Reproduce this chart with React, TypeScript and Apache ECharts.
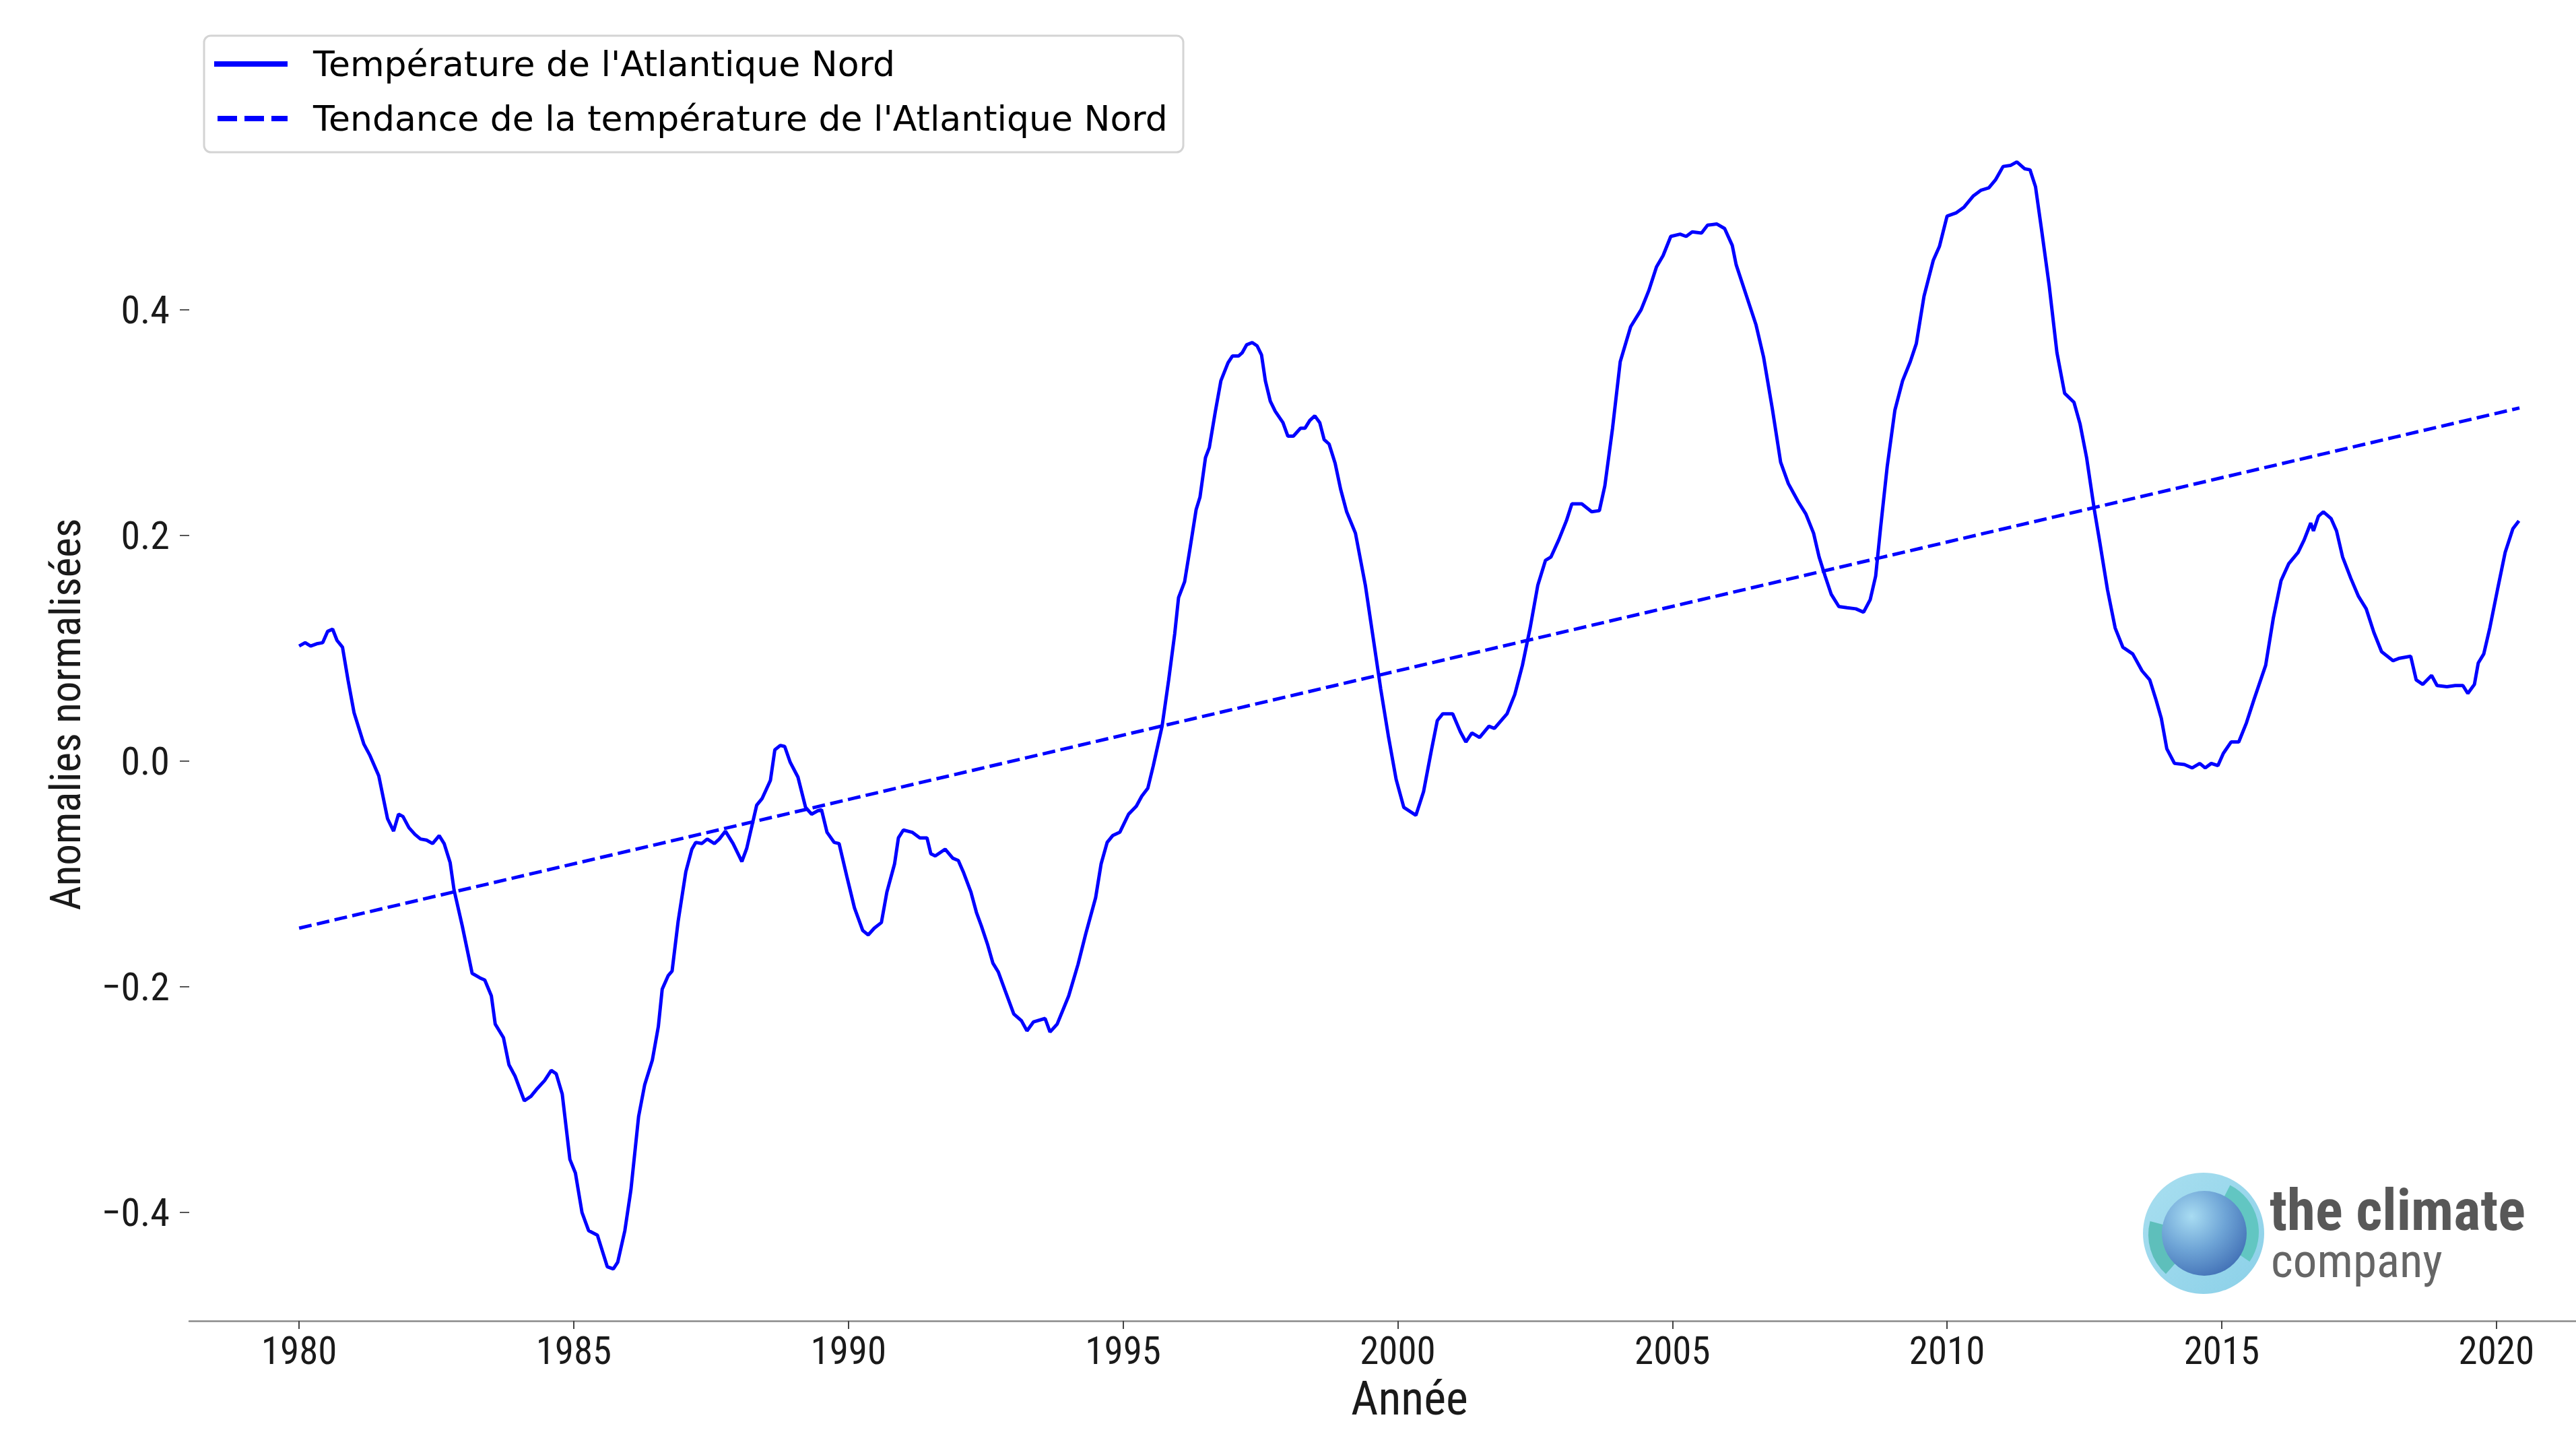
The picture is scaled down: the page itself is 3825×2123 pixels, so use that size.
import React, { useEffect, useRef } from "react";
import * as echarts from "echarts";

// ---- Data (year, normalised anomaly) ----
const temp1980s: number[][] = [
  [1980.0, 0.102], [1980.11, 0.105], [1980.21, 0.102], [1980.32, 0.104], [1980.43, 0.105], [1980.52, 0.115],
  [1980.61, 0.117], [1980.69, 0.107], [1980.79, 0.101], [1980.89, 0.072], [1981.0, 0.043], [1981.18, 0.015],
  [1981.29, 0.005], [1981.45, -0.013], [1981.61, -0.051], [1981.72, -0.062], [1981.81, -0.047], [1981.89, -0.049],
  [1982.0, -0.059], [1982.11, -0.065], [1982.21, -0.069], [1982.32, -0.07], [1982.43, -0.073], [1982.55, -0.066],
  [1982.64, -0.073], [1982.75, -0.09], [1982.82, -0.114], [1982.97, -0.146], [1983.15, -0.188], [1983.29, -0.192],
  [1983.38, -0.194], [1983.5, -0.208], [1983.57, -0.233], [1983.72, -0.245], [1983.82, -0.269], [1983.93, -0.279],
  [1984.1, -0.301], [1984.22, -0.297], [1984.32, -0.291], [1984.47, -0.283], [1984.59, -0.274], [1984.68, -0.277],
  [1984.79, -0.295], [1984.93, -0.353], [1985.03, -0.365], [1985.15, -0.4], [1985.27, -0.416], [1985.43, -0.42],
  [1985.61, -0.448], [1985.72, -0.45], [1985.8, -0.444], [1985.93, -0.416], [1986.04, -0.38], [1986.18, -0.315],
  [1986.29, -0.287], [1986.43, -0.265], [1986.54, -0.235], [1986.61, -0.202], [1986.72, -0.19], [1986.79, -0.186],
  [1986.9, -0.142], [1987.04, -0.098], [1987.15, -0.078], [1987.22, -0.072], [1987.33, -0.073], [1987.43, -0.069],
  [1987.56, -0.073], [1987.65, -0.069], [1987.76, -0.062], [1987.9, -0.073], [1988.06, -0.089], [1988.15, -0.077],
  [1988.33, -0.039], [1988.43, -0.033], [1988.58, -0.017], [1988.66, 0.01], [1988.76, 0.014], [1988.84, 0.013],
  [1988.94, -0.001], [1989.08, -0.014], [1989.22, -0.041], [1989.33, -0.047], [1989.44, -0.044], [1989.51, -0.043],
  [1989.61, -0.063], [1989.74, -0.072], [1989.83, -0.073], [1989.97, -0.102],
];

const temp1990s: number[][] = [
  [1990.11, -0.13], [1990.26, -0.15], [1990.36, -0.154], [1990.47, -0.148], [1990.6, -0.143], [1990.7, -0.116],
  [1990.84, -0.091], [1990.91, -0.068], [1991.0, -0.061], [1991.16, -0.063], [1991.3, -0.068], [1991.43, -0.068],
  [1991.5, -0.082], [1991.58, -0.084], [1991.76, -0.078], [1991.9, -0.086], [1992.0, -0.088], [1992.09, -0.098],
  [1992.23, -0.116], [1992.33, -0.134], [1992.42, -0.146], [1992.53, -0.162], [1992.63, -0.179], [1992.73, -0.187],
  [1992.85, -0.203], [1993.01, -0.224], [1993.15, -0.23], [1993.25, -0.239], [1993.37, -0.231], [1993.58, -0.228],
  [1993.67, -0.24], [1993.8, -0.233], [1994.01, -0.208], [1994.18, -0.18], [1994.32, -0.153], [1994.5, -0.121],
  [1994.6, -0.091], [1994.71, -0.072], [1994.81, -0.066], [1994.94, -0.063], [1995.1, -0.047], [1995.24, -0.04],
  [1995.34, -0.031], [1995.45, -0.024], [1995.55, -0.004], [1995.71, 0.031], [1995.83, 0.072], [1995.94, 0.113],
  [1996.01, 0.145], [1996.12, 0.159], [1996.22, 0.189], [1996.33, 0.223], [1996.4, 0.234], [1996.5, 0.269],
  [1996.57, 0.278], [1996.68, 0.31], [1996.78, 0.337], [1996.91, 0.353], [1996.99, 0.359], [1997.1, 0.359],
  [1997.17, 0.362], [1997.25, 0.369], [1997.35, 0.371], [1997.44, 0.368], [1997.52, 0.36], [1997.59, 0.337],
  [1997.68, 0.319], [1997.77, 0.31], [1997.91, 0.3], [1998.0, 0.288], [1998.1, 0.288], [1998.23, 0.295],
  [1998.31, 0.295], [1998.4, 0.302], [1998.49, 0.306], [1998.58, 0.3], [1998.66, 0.285], [1998.75, 0.281],
  [1998.86, 0.264], [1998.96, 0.241], [1999.07, 0.221], [1999.23, 0.202], [1999.41, 0.156], [1999.55, 0.11],
  [1999.69, 0.064], [1999.83, 0.022], [1999.97, -0.016],
];

const temp2000s: number[][] = [
  [2000.11, -0.041], [2000.33, -0.048], [2000.47, -0.027], [2000.61, 0.009], [2000.72, 0.036], [2000.82, 0.042],
  [2001.0, 0.042], [2001.14, 0.026], [2001.24, 0.017], [2001.35, 0.025], [2001.49, 0.021], [2001.66, 0.031],
  [2001.76, 0.029], [2001.99, 0.042], [2002.13, 0.059], [2002.27, 0.085], [2002.41, 0.118], [2002.55, 0.156],
  [2002.69, 0.178], [2002.79, 0.181], [2002.93, 0.196], [2003.07, 0.213], [2003.17, 0.228], [2003.35, 0.228],
  [2003.53, 0.221], [2003.67, 0.222], [2003.77, 0.244], [2003.91, 0.295], [2004.05, 0.354], [2004.24, 0.385],
  [2004.43, 0.4], [2004.57, 0.417], [2004.71, 0.438], [2004.83, 0.448], [2004.97, 0.465], [2005.14, 0.467],
  [2005.25, 0.465], [2005.36, 0.469], [2005.53, 0.468], [2005.64, 0.475], [2005.81, 0.476], [2005.95, 0.472],
  [2006.09, 0.457], [2006.16, 0.44], [2006.35, 0.412], [2006.52, 0.387], [2006.66, 0.358], [2006.82, 0.312],
  [2006.97, 0.265], [2007.11, 0.246], [2007.29, 0.23], [2007.43, 0.219], [2007.57, 0.202], [2007.67, 0.181],
  [2007.78, 0.164], [2007.89, 0.148], [2008.03, 0.137], [2008.18, 0.136], [2008.34, 0.135], [2008.48, 0.132],
  [2008.6, 0.143], [2008.7, 0.164], [2008.79, 0.207], [2008.91, 0.261], [2009.05, 0.311], [2009.19, 0.337],
  [2009.33, 0.354], [2009.44, 0.37], [2009.58, 0.412], [2009.75, 0.444], [2009.86, 0.456],
];

const temp2010s: number[][] = [
  [2010.0, 0.483], [2010.17, 0.486], [2010.31, 0.491], [2010.48, 0.501], [2010.62, 0.506], [2010.76, 0.508],
  [2010.88, 0.515], [2011.02, 0.527], [2011.16, 0.528], [2011.27, 0.531], [2011.41, 0.525], [2011.51, 0.524],
  [2011.61, 0.509], [2011.72, 0.471], [2011.86, 0.421], [2012.0, 0.362], [2012.14, 0.326], [2012.31, 0.318],
  [2012.42, 0.299], [2012.54, 0.269], [2012.68, 0.223], [2012.78, 0.194], [2012.92, 0.152], [2013.06, 0.118],
  [2013.2, 0.101], [2013.38, 0.095], [2013.55, 0.08], [2013.69, 0.072], [2013.8, 0.055], [2013.9, 0.038],
  [2014.0, 0.011], [2014.14, -0.002], [2014.32, -0.003], [2014.46, -0.006], [2014.6, -0.002], [2014.7, -0.006],
  [2014.81, -0.002], [2014.93, -0.004], [2015.03, 0.007], [2015.17, 0.017], [2015.31, 0.017], [2015.45, 0.034],
  [2015.59, 0.055], [2015.8, 0.085], [2015.94, 0.127], [2016.08, 0.16], [2016.22, 0.175], [2016.39, 0.185],
  [2016.5, 0.196], [2016.62, 0.211], [2016.67, 0.204], [2016.76, 0.217], [2016.85, 0.221], [2016.99, 0.215],
  [2017.09, 0.204], [2017.2, 0.181], [2017.35, 0.162], [2017.49, 0.146], [2017.63, 0.135], [2017.77, 0.114],
  [2017.91, 0.097], [2018.12, 0.089], [2018.22, 0.091], [2018.44, 0.093], [2018.54, 0.072], [2018.66, 0.068],
  [2018.82, 0.076], [2018.92, 0.067], [2019.1, 0.066], [2019.25, 0.067], [2019.39, 0.067], [2019.48, 0.06],
  [2019.6, 0.068], [2019.67, 0.087], [2019.77, 0.095], [2019.88, 0.118], [2020.02, 0.152], [2020.16, 0.185],
  [2020.3, 0.206], [2020.41, 0.213],
];

const trendLine: number[][] = [[1980.0, -0.148], [2020.42, 0.313]];

const xTicks = [1980, 1985, 1990, 1995, 2000, 2005, 2010, 2015, 2020];
const yTicks = [-0.4, -0.2, 0, 0.2, 0.4];
const seriesNames = ["Température de l'Atlantique Nord", "Tendance de la température de l'Atlantique Nord"];
const xAxisTitle = "Année";
const yAxisTitle = "Anomalies normalisées";
const logoLine1 = "the climate";
const logoLine2 = "company";

const TICK_FONT = "'Liberation Sans Narrow', 'Roboto Condensed', Roboto, sans-serif";
const LEGEND_FONT = "'DejaVu Sans', 'Noto Sans', sans-serif";
const BLUE = "#0000ff";

export default function App() {
  const ref = useRef<HTMLDivElement>(null);

  useEffect(() => {
    document.body.style.margin = "0";
    const chart = echarts.init(ref.current as HTMLDivElement, null, { renderer: "svg" });
    const tempSeries = [...temp1980s, ...temp1990s, ...temp2000s, ...temp2010s];

    chart.setOption({
      animation: false,
      backgroundColor: "#ffffff",
      grid: { left: 281, right: -80, top: 160, bottom: 162, containLabel: false, outerBoundsMode: "none" },
      xAxis: {
        type: "value",
        min: 1978.0,
        max: 2022.43,
        name: xAxisTitle,
        nameLocation: "middle",
        nameGap: 80,
        nameTextStyle: { fontFamily: TICK_FONT, fontSize: 70, color: "#1a1a1a" },
        axisLine: { show: true, onZero: false, lineStyle: { color: "#8a8a8a", width: 2.5 } },
        axisTick: { show: true, length: 12, customValues: xTicks, lineStyle: { color: "#444", width: 2 } },
        axisLabel: {
          customValues: xTicks,
          margin: 16,
          fontFamily: TICK_FONT,
          fontSize: 57,
          color: "#1a1a1a",
          formatter: (v: number) => String(Math.round(v)),
        },
        splitLine: { show: false },
      },
      yAxis: {
        type: "value",
        min: -0.496,
        max: 0.579,
        name: yAxisTitle,
        nameLocation: "middle",
        nameGap: 152,
        nameTextStyle: { fontFamily: TICK_FONT, fontSize: 63, color: "#1a1a1a" },
        axisLine: { show: false },
        axisTick: { show: true, length: 14, customValues: yTicks, lineStyle: { color: "#555", width: 2 } },
        axisLabel: {
          customValues: yTicks,
          margin: 29,
          fontFamily: TICK_FONT,
          fontSize: 58,
          color: "#1a1a1a",
          formatter: (v: number) => {
            const s = Math.abs(v).toFixed(1);
            return v < -1e-9 ? "\u2212" + s : s;
          },
        },
        splitLine: { show: false },
      },
      series: [
        {
          name: seriesNames[0],
          type: "line",
          data: tempSeries,
          showSymbol: false,
          symbol: "none",
          lineStyle: { color: BLUE, width: 5 },
          z: 3,
        },
        {
          name: seriesNames[1],
          type: "line",
          data: trendLine,
          showSymbol: false,
          symbol: "none",
          lineStyle: { color: BLUE, width: 5, type: [19, 8] },
          z: 2,
        },
      ],
      graphic: [
        {
          type: "rect",
          shape: { x: 303, y: 53, width: 1454, height: 173, r: 10 },
          style: { fill: "rgba(255,255,255,0.85)", stroke: "#d4d4d4", lineWidth: 3 },
          z: 10,
        },
        {
          type: "line",
          shape: { x1: 318, y1: 95, x2: 427, y2: 95 },
          style: { stroke: BLUE, lineWidth: 8 },
          z: 11,
        },
        {
          type: "line",
          shape: { x1: 323, y1: 176, x2: 427, y2: 176 },
          style: { stroke: BLUE, lineWidth: 8, lineDash: [29, 11] },
          z: 11,
        },
        {
          type: "text",
          x: 465,
          y: 95,
          style: { text: seriesNames[0], fontFamily: LEGEND_FONT, fontSize: 52, fill: "#000", verticalAlign: "middle", align: "left" },
          z: 11,
        },
        {
          type: "text",
          x: 465,
          y: 176,
          style: { text: seriesNames[1], fontFamily: LEGEND_FONT, fontSize: 52, fill: "#000", verticalAlign: "middle", align: "left" },
          z: 11,
        },
        // logo
        {
          type: "group",
          z: 12,
          children: [
            {
              type: "circle",
              shape: { cx: 3272, cy: 1831, r: 90 },
              style: {
                fill: new echarts.graphic.LinearGradient(0, 0, 1, 1, [
                  { offset: 0, color: "#a9dff0" },
                  { offset: 1, color: "#8bd0e8" },
                ]),
              },
            },
            {
              type: "sector",
              shape: { cx: 3276, cy: 1829, r0: 0, r: 78, startAngle: -1.1, endAngle: 0.6 },
              style: { fill: "#62c6c2" },
            },
            {
              type: "sector",
              shape: { cx: 3268, cy: 1833, r0: 0, r: 78, startAngle: 2.3, endAngle: 3.4 },
              style: { fill: "#5ebfbb" },
            },
            {
              type: "circle",
              shape: { cx: 3273, cy: 1831, r: 63 },
              style: {
                fill: new echarts.graphic.RadialGradient(0.35, 0.3, 0.8, [
                  { offset: 0, color: "#a8dcf2" },
                  { offset: 0.5, color: "#6ea4d6" },
                  { offset: 1, color: "#3e6cb3" },
                ]),
              },
            },
            {
              type: "text",
              x: 3370,
              y: 1797,
              style: { text: logoLine1, fontFamily: TICK_FONT, fontWeight: "bold", fontSize: 85, lineHeight: 66, fill: "#585858", verticalAlign: "middle", align: "left" },
            },
            {
              type: "text",
              x: 3372,
              y: 1871,
              style: { text: logoLine2, fontFamily: TICK_FONT, fontSize: 71, lineHeight: 60, fill: "#666666", verticalAlign: "middle", align: "left" },
            },
          ],
        },
      ],
    });

    return () => chart.dispose();
  }, []);

  return (
    <div
      ref={ref}
      style={{ position: "absolute", left: 0, top: 0, width: 3825, height: 2123, background: "#ffffff" }}
    />
  );
}
